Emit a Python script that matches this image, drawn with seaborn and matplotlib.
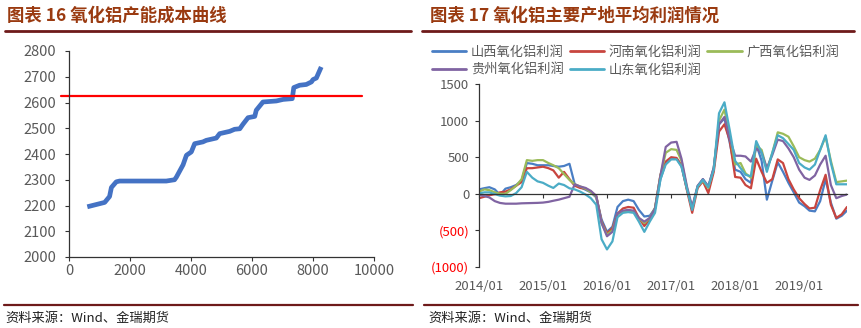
import matplotlib
matplotlib.use("Agg")
import matplotlib.pyplot as plt
import matplotlib.dates as mdates
from matplotlib.lines import Line2D
import numpy as np
import pandas as pd
import seaborn as sns

# ---------------- data ----------------
# Chart 16: alumina capacity cost curve
capacity = [600, 1170, 1330, 1390, 1550, 1660, 3190, 3460, 3520, 3740, 3850, 4010,
            4120, 4390, 4500, 4830, 4940, 5270, 5430, 5600, 5700, 5870, 6090, 6140,
            6360, 6800, 7020, 7320, 7370, 7560, 7780, 7950, 8000, 8110, 8270]
cost = [2195, 2212, 2235, 2270, 2292, 2295, 2295, 2300, 2310, 2358, 2395, 2408,
        2440, 2447, 2453, 2462, 2479, 2488, 2496, 2498, 2515, 2541, 2546, 2570,
        2602, 2606, 2612, 2615, 2658, 2667, 2670, 2680, 2689, 2695, 2738]
price_level = 2625
left_xticks = [0, 2000, 4000, 6000, 8000, 10000]
left_yticks = [2000, 2100, 2200, 2300, 2400, 2500, 2600, 2700, 2800]

# Chart 17: average alumina profit by region (monthly, 2014/01 - 2019/10)
months = pd.date_range("2014-01-01", periods=70, freq="MS")
shanxi = [60, 77, 90, 60, -15, 70, 90, 120, 180, 420,
          410, 390, 390, 390, 380, 370, 380, 410, 130, 90,
          55, 20, -50, -350, -520, -450, -180, -100, -80, -100,
          -220, -310, -300, -200, 200, 420, 480, 480, 380, 60,
          -200, 100, 200, 100, 350, 950, 1030, 700, 330, 300,
          200, 150, 680, 450, -80, 180, 430, 300, 150, 20,
          -120, -170, -230, -240, -100, 200, -120, -340, -300, -230]
henan = [-60, -40, -20, -5, 20, 30, 60, 110, 160, 350,
         350, 360, 370, 350, 320, 220, 300, 200, 110, 80,
         70, 30, -30, -380, -540, -470, -270, -200, -180, -190,
         -330, -440, -350, -200, 260, 440, 500, 490, 390, 50,
         -260, 80, 170, 10, 300, 850, 950, 730, 230, 220,
         120, 75, 480, 300, 150, 200, 470, 420, 200, 60,
         -60, -140, -200, -190, 50, 260, -150, -330, -280, -180]
guangxi = [30, 60, 50, 20, 0, 0, 50, 110, 200, 460,
           450, 460, 460, 420, 390, 350, 270, 190, 130, 100,
           70, 20, -40, -400, -560, -500, -280, -240, -230, -240,
           -330, -400, -330, -190, 250, 560, 610, 600, 450, 80,
           -200, 100, 180, 80, 350, 1000, 1150, 800, 400, 420,
           280, 220, 660, 600, 330, 560, 840, 820, 780, 650,
           500, 460, 440, 480, 600, 780, 450, 160, 170, 180]
guizhou = [-15, -30, -50, -100, -125, -135, -135, -135, -130, -128,
           -126, -124, -120, -110, -95, -80, -60, -40, 130, 100,
           80, 40, -30, -400, -580, -520, -270, -230, -220, -230,
           -330, -380, -330, -200, 250, 640, 700, 710, 480, 100,
           -180, 110, 200, 100, 360, 950, 1050, 750, 520, 520,
           510, 440, 620, 560, 350, 530, 740, 720, 620, 500,
           330, 220, 190, 250, 400, 520, 120, -60, -30, -10]
shandong = [5, 20, 20, -5, -25, -35, -30, 10, 90, 300,
            220, 170, 150, 110, 80, 140, 120, 75, 60, 30,
            -10, -60, -150, -620, -760, -650, -320, -260, -250, -260,
            -380, -520, -380, -260, 200, 400, 470, 470, 370, 70,
            -220, 100, 190, 90, 330, 1100, 1250, 870, 450, 350,
            260, 240, 720, 560, 300, 560, 800, 760, 680, 600,
            420, 360, 330, 400, 600, 800, 420, 130, 130, 130]
series_names = ["山西氧化铝利润", "河南氧化铝利润", "广西氧化铝利润", "贵州氧化铝利润", "山东氧化铝利润"]
series_colors = ["#4A7EC4", "#C8453F", "#9BBB59", "#8064A2", "#4BACC6"]
right_yticks = [-1000, -500, 0, 500, 1000, 1500]
right_ylabels = ["(1000)", "(500)", "0", "500", "1000", "1500"]
right_xticks = pd.to_datetime(["2014-01-01", "2015-01-01", "2016-01-01", "2017-01-01",
                               "2018-01-01", "2019-01-01"])
right_xlabels = ["2014/01", "2015/01", "2016/01", "2017/01", "2018/01", "2019/01"]

title_left = "图表 16 氧化铝产能成本曲线"
title_right = "图表 17 氧化铝主要产地平均利润情况"
source_text = "资料来源：Wind、金瑞期货"

# ---------------- style ----------------
sns.set_theme(style="white")
plt.rcParams["font.family"] = ["Noto Sans CJK SC", "DejaVu Sans"]
plt.rcParams["axes.unicode_minus"] = False

W, H = 861, 328
fig = plt.figure(figsize=(W / 100, H / 100), dpi=100)
fig.patch.set_facecolor("white")

TITLE_C = "#9A3A10"
RULE_C = "#6E1A1A"
TICK_C = "#595959"

# titles and rules
fig.text(7 / W, 1 - 16 / H, title_left, ha="left", va="center", fontsize=12.5,
         fontweight="heavy", color=TITLE_C)
fig.text(430 / W, 1 - 16 / H, title_right, ha="left", va="center", fontsize=12.5,
         fontweight="heavy", color=TITLE_C)
fig.add_artist(Line2D([5 / W, 411 / W], [1 - 30.5 / H] * 2, color=RULE_C, lw=2))
fig.add_artist(Line2D([422 / W, 854 / W], [1 - 30.5 / H] * 2, color=RULE_C, lw=2))
fig.add_artist(Line2D([4 / W, 413 / W], [1 - 305 / H] * 2, color=RULE_C, lw=1.6))
fig.add_artist(Line2D([424 / W, 858 / W], [1 - 305 / H] * 2, color=RULE_C, lw=1.6))
fig.text(5 / W, 1 - 318 / H, source_text, ha="left", va="center", fontsize=9.5, color="#222222")
fig.text(428 / W, 1 - 318 / H, source_text, ha="left", va="center", fontsize=9.5, color="#222222")

# ---------------- left chart ----------------
axL = fig.add_axes([69 / W, 1 - 257 / H, 305 / W, 206 / H])
cost_df = pd.DataFrame({"capacity": capacity, "cost": cost})
sns.lineplot(data=cost_df, x="capacity", y="cost", ax=axL, sort=False, estimator=None,
             color="#4472C4", lw=3.4, solid_capstyle="butt")
axL.axhline(price_level, xmin=-0.027, xmax=0.962, color="#FF0000", lw=1.6, clip_on=False)
axL.set_xlim(0, 10000)
axL.set_ylim(2000, 2800)
axL.set_xticks(left_xticks)
axL.set_yticks(left_yticks)
axL.set_xticklabels([str(v) for v in left_xticks])
axL.set_yticklabels([str(v) for v in left_yticks])
axL.set_xlabel("")
axL.set_ylabel("")
for s in ["top", "right"]:
    axL.spines[s].set_visible(False)
for s in ["left", "bottom"]:
    axL.spines[s].set_color("#333333")
    axL.spines[s].set_linewidth(0.9)
axL.tick_params(axis="y", length=3, width=0.8, color="#333333", pad=6,
                labelsize=10.5, labelcolor=TICK_C, left=True)
axL.tick_params(axis="x", length=3, width=0.8, color="#333333", pad=2,
                labelsize=10.5, labelcolor=TICK_C, bottom=True)
axL.grid(False)

# ---------------- right chart ----------------
axR = fig.add_axes([479 / W, 1 - 267 / H, 368 / W, 183 / H])
profit_df = pd.DataFrame({
    "date": np.tile(months, 5),
    "region": np.repeat(series_names, len(months)),
    "profit": shanxi + henan + guangxi + guizhou + shandong,
})
sns.lineplot(data=profit_df, x="date", y="profit", hue="region", hue_order=series_names,
             palette=series_colors, ax=axR, lw=1.6, estimator=None, legend=False)
axR.set_xlim(months[0], months[-1])
axR.set_ylim(-1000, 1500)
axR.set_yticks(right_yticks)
axR.set_yticklabels(right_ylabels)
for lab, v in zip(axR.get_yticklabels(), right_yticks):
    lab.set_color("#FF0000" if v < 0 else TICK_C)
axR.set_xlabel("")
axR.set_ylabel("")
axR.set_xticks(right_xticks)
axR.tick_params(axis="x", labelbottom=False, length=3, width=0.8, color="#333333",
                direction="out", bottom=True)
axR.tick_params(axis="y", length=3, width=0.8, color="#333333", pad=4,
                labelsize=9.5, left=True)
axR.spines["bottom"].set_position(("data", 0))
axR.spines["bottom"].set_color("#333333")
axR.spines["bottom"].set_linewidth(0.9)
axR.spines["left"].set_color("#333333")
axR.spines["left"].set_linewidth(0.9)
for s in ["top", "right"]:
    axR.spines[s].set_visible(False)
axR.grid(False)

axT = axR.twiny()
axT.set_xlim(axR.get_xlim())
axT.xaxis.set_ticks_position("bottom")
axT.set_xticks(mdates.date2num(right_xticks))
axT.set_xticklabels(right_xlabels)
axT.tick_params(axis="x", length=0, pad=9, labelsize=9.5, labelcolor=TICK_C)
for s in axT.spines.values():
    s.set_visible(False)
axT.grid(False)

# legend (row-major order like the reference)
handles = [Line2D([], [], color=c, lw=2) for c in series_colors]
order = [0, 3, 1, 4, 2]
fig.legend([handles[i] for i in order], [series_names[i] for i in order],
           loc="upper left", bbox_to_anchor=(432 / W, 1 - 46 / H), ncol=3, frameon=False,
           fontsize=9.5, handlelength=2.6, handletextpad=0.35, columnspacing=0.45,
           labelspacing=0.38, borderaxespad=0, borderpad=0, labelcolor=TICK_C)

fig.savefig("out.png", dpi=100, facecolor="white")
